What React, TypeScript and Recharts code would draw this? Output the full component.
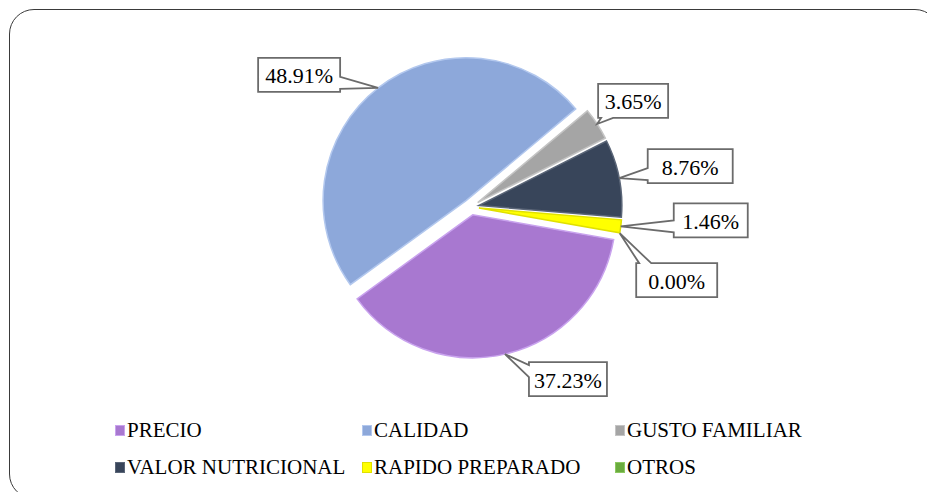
import { PieChart, Pie, Cell, Legend } from "recharts"

const categories = ["PRECIO", "CALIDAD", "GUSTO FAMILIAR", "VALOR NUTRICIONAL", "RAPIDO PREPARADO", "OTROS"]
const percentages = [37.23, 48.91, 3.65, 8.76, 1.46, 0.0]
const colors = ["#A878D0", "#8DA8DA", "#A5A5A5", "#38455A", "#FFFF00", "#6AAB3E"]
const rims = ["#C9A3EE", "#B3C8EE", "#C4C4C4", "#5B6678", "#E0E000", "#8CC860"]

const data = categories.map((name, i) => ({ name, value: percentages[i] }))

// layout
const CX = 471
const CY = 207
const R = 143
const EXPLODE = 8
const START = -10
const labelOffsets = [[63, 25], [-79, -13], [36, -23], [71, -12], [90, -6], [57, 47]]
const labelWidths = [78, 82, 70, 85, 74, 81]
const legendCols = [115, 362, 615]
const legendRows = [430, 467]
const serif = "Liberation Serif, Times New Roman, Times, DejaVu Serif, serif"

const total = percentages.reduce((a, b) => a + b, 0)
const midAngles = percentages.map((v, i) => {
  const before = percentages.slice(0, i).reduce((a, b) => a + b, 0)
  return START - ((before + v / 2) / total) * 360
})

const RAD = Math.PI / 180

function calloutPath(x: number, y: number, w: number, h: number, tx: number, ty: number) {
  const half = 6
  const dxOut = tx < x ? x - tx : tx > x + w ? tx - (x + w) : 0
  const dyOut = ty < y ? y - ty : ty > y + h ? ty - (y + h) : 0
  let side: string
  if (dxOut >= dyOut) side = tx < x ? "left" : "right"
  else side = ty < y ? "top" : "bottom"
  const clamp = (v: number, lo: number, hi: number) => Math.max(lo, Math.min(hi, v))
  const bx = clamp(tx, x + half + 3, x + w - half - 3)
  const by = clamp(ty, y + half + 3, y + h - half - 3)
  const p: string[] = [`M${x},${y}`]
  if (side === "top") p.push(`L${bx - half},${y}`, `L${tx},${ty}`, `L${bx + half},${y}`)
  p.push(`L${x + w},${y}`)
  if (side === "right") p.push(`L${x + w},${by - half}`, `L${tx},${ty}`, `L${x + w},${by + half}`)
  p.push(`L${x + w},${y + h}`)
  if (side === "bottom") p.push(`L${bx + half},${y + h}`, `L${tx},${ty}`, `L${bx - half},${y + h}`)
  p.push(`L${x},${y + h}`)
  if (side === "left") p.push(`L${x},${by + half}`, `L${tx},${ty}`, `L${x},${by - half}`)
  p.push("Z")
  return p.join(" ")
}

function makeLabel(slice: number) {
  return (props: any) => {
    const { cx, cy, midAngle, outerRadius, index, value } = props
    if (index !== slice) return null
    const tx = cx + outerRadius * Math.cos(-midAngle * RAD)
    const ty = cy + outerRadius * Math.sin(-midAngle * RAD)
    const w = labelWidths[slice]
    const h = 34
    const bcx = tx + labelOffsets[slice][0]
    const bcy = ty + labelOffsets[slice][1]
    return (
      <g>
        <path
          d={calloutPath(bcx - w / 2, bcy - h / 2, w, h, tx, ty)}
          fill="#fff"
          stroke="#6B6B6B"
          strokeWidth={1.8}
        />
        <text
          x={bcx}
          y={bcy + 1}
          textAnchor="middle"
          dominantBaseline="central"
          style={{ fontFamily: serif, fontSize: 22 }}
          fill="#000"
        >
          {Number(value).toFixed(2)}%
        </text>
      </g>
    )
  }
}

function LegendContent() {
  return (
    <div style={{ position: "relative", width: 927, height: 80 }}>
      {categories.map((name, i) => {
        const col = i % 3
        const row = Math.floor(i / 3)
        return (
          <div
            key={name}
            style={{
              position: "absolute",
              left: legendCols[col],
              top: legendRows[row] - 412 - 13,
              display: "flex",
              alignItems: "center",
              height: 26,
              fontFamily: serif,
              fontSize: 21,
              color: "#000",
              whiteSpace: "nowrap",
            }}
          >
            <span
              style={{
                display: "inline-block",
                width: 8,
                height: 9,
                background: colors[i],
                border: `1px solid ${rims[i]}`,
                marginRight: 2,
              }}
            />
            {name}
          </div>
        )
      })}
    </div>
  )
}

export default function App() {
  return (
    <div style={{ position: "relative", width: 927, height: 492, overflow: "hidden", background: "#fff", fontFamily: serif }}>
      <style>{`body{margin:0}`}</style>
      <div
        style={{
          position: "absolute",
          left: 9,
          top: 9,
          width: 931,
          height: 490,
          border: "1.5px solid #3A3A3A",
          borderRadius: 25,
          boxSizing: "border-box",
        }}
      />
      <div style={{ position: "absolute", left: 0, top: 0 }}>
        <PieChart width={927} height={492} margin={{ top: 0, right: 0, bottom: 0, left: 0 }}>
          {categories.map((_, s) => (
            <Pie
              key={s}
              data={data}
              dataKey="value"
              nameKey="name"
              cx={CX + EXPLODE * Math.cos(-midAngles[s] * RAD)}
              cy={CY + EXPLODE * Math.sin(-midAngles[s] * RAD)}
              outerRadius={R}
              startAngle={START}
              endAngle={START - 360}
              isAnimationActive={false}
              label={makeLabel(s)}
              labelLine={false}
            >
              {data.map((entry, i) => (
                <Cell
                  key={`cell-${i}`}
                  fill={i === s ? colors[i] : "none"}
                  stroke={i === s && entry.value > 0 ? rims[i] : "none"}
                  strokeWidth={1.5}
                />
              ))}
            </Pie>
          ))}
          <Legend
            content={() => <LegendContent />}
            wrapperStyle={{ position: "absolute", left: 0, top: 412, width: 927 }}
          />
        </PieChart>
      </div>
    </div>
  )
}
